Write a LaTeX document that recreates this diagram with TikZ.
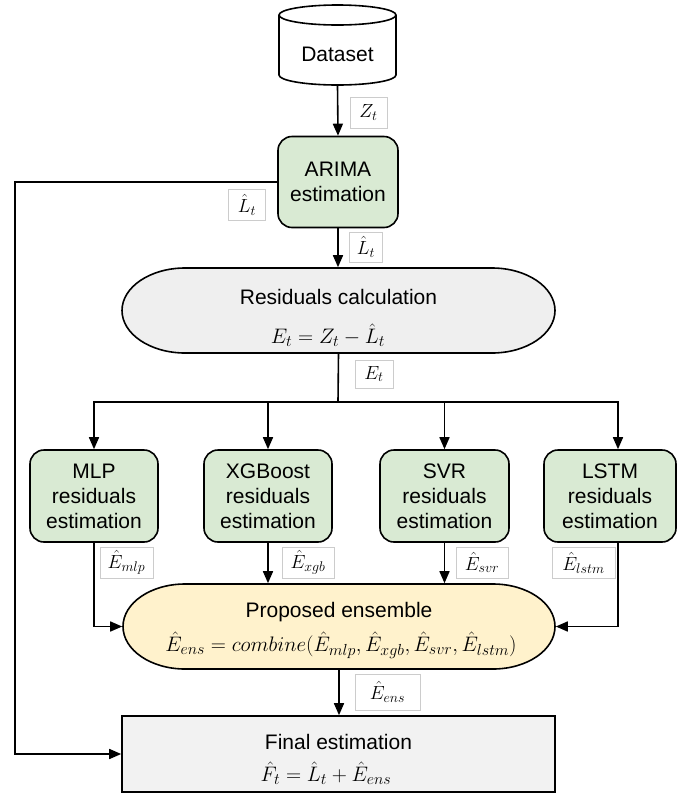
\RequirePackage{fix-cm}
\documentclass[tikz,border=0pt]{standalone}
\usepackage{fontspec}
\setmainfont{Liberation Sans}
\DeclareMathSizes{21}{21}{16}{12}
\DeclareMathSizes{19}{19}{14}{10}
\usetikzlibrary{arrows.meta}
\definecolor{boxgreen}{RGB}{217,234,211}
\definecolor{ensyellow}{RGB}{255,242,204}
\definecolor{resgray}{RGB}{239,239,239}
\definecolor{fingray}{RGB}{242,242,242}
\definecolor{lblgray}{RGB}{204,204,204}
\begin{document}
\begin{tikzpicture}[x=1pt,y=-1pt,
  line width=1.6pt,
  arr/.style={-{Triangle[length=12pt,width=10pt]}, line width=1.6pt},
  gbox/.style={draw, fill=boxgreen, rounded corners=14pt, minimum width=128pt,
    minimum height=92pt, align=center, font=\fontsize{21}{25}\selectfont, inner sep=0pt},
  lbl/.style={draw=lblgray, line width=0.6pt, fill=white, inner sep=0pt,
    minimum height=31pt, font=\fontsize{19}{21}\selectfont},
  txt/.style={font=\fontsize{21}{25}\selectfont, inner sep=0pt},
  frm/.style={font=\fontsize{21}{23}\selectfont, inner sep=0pt},
  hole/.style={minimum width=433pt, minimum height=85pt, inner sep=0pt, draw=none}]
\useasboundingbox (0,0) rectangle (693,793);

% Dataset cylinder
\draw[fill=white] (279,15) -- (279,75) arc[start angle=180, end angle=0, x radius=58.5, y radius=10] -- (396,15);
\draw[fill=white] (337.5,15) ellipse[x radius=58.5, y radius=10];
\node[minimum width=117pt, minimum height=80pt, inner sep=0pt] (ds) at (337.5,45) {};
\node[txt] (dstext) at (337.5,54) {Dataset};

% ARIMA
\node[gbox, minimum width=120pt, minimum height=91pt] (arima) at (338,182) {ARIMA\\estimation};

% Residuals stadium
\draw[fill=resgray] (185,268) -- (492,268) arc[start angle=-90, end angle=90, x radius=63, y radius=42.5]
  -- (185,353) arc[start angle=90, end angle=270, x radius=63, y radius=42.5] -- cycle;
\node[hole] (res) at (338.5,310.5) {};
\node[txt] (restext) at (338.5,297) {Residuals calculation};
\node[frm] (resfrm) at (328,335) {$E_t = Z_t - \hat{L}_t$};

% Residual models
\node[gbox] (mlp) at (94,496) {MLP\\residuals\\estimation};
\node[gbox] (xgb) at (268,496) {XGBoost\\residuals\\estimation};
\node[gbox, minimum width=129pt] (svr) at (444.5,496) {SVR\\residuals\\estimation};
\node[gbox, minimum width=132pt] (lstm) at (610,496) {LSTM\\residuals\\estimation};

% Ensemble stadium
\draw[fill=ensyellow] (185,584) -- (493,584) arc[start angle=-90, end angle=90, x radius=62, y radius=42.5]
  -- (185,669) arc[start angle=90, end angle=270, x radius=62, y radius=42.5] -- cycle;
\node[hole, minimum width=432pt] (ens) at (339,626.5) {};
\node[txt] (enstext) at (339,612) {Proposed ensemble};
\node[frm] (ensfrm) at (341,645) {$\hat{E}_{ens} = combine(\hat{E}_{mlp}, \hat{E}_{xgb}, \hat{E}_{svr}, \hat{E}_{lstm})$};

% Final estimation
\node[draw, fill=fingray, minimum width=433pt, minimum height=76pt, inner sep=0pt] (final) at (338.5,754) {};
\node[txt] (fintext) at (338.5,742) {Final estimation};
\node[frm] (finfrm) at (326,773) {$\hat{F}_t = \hat{L}_t + \hat{E}_{ens}$};

% Connectors
\draw[arr] (ds.south) -- (arima.north);
\draw[arr] (arima.south) -- (arima.south |- res.north);
\draw[arr] (arima.west) -- ++(-262,0) |- (final.west);
\coordinate (br) at (338,402);
\draw (res.south) -- (br);
\draw[arr] (br) -| (mlp.north);
\draw[arr] (br) -| (xgb.north);
\draw[arr] (br) -| (svr.north);
\draw[arr] (br) -| ([xshift=8pt]lstm.north);
\draw[arr] (mlp.south) |- (ens.west);
\draw[arr] (xgb.south) -- (xgb.south |- ens.north);
\draw[arr] (svr.south) -- (svr.south |- ens.north);
\draw[arr] ([xshift=8pt]lstm.south) |- (ens.east);
\draw[arr] (ens.south) -- (ens.south |- final.north);

% Labels
\node[lbl, minimum width=37pt] (lz) at (368.5,112.5) {$Z_t$};
\node[lbl, minimum width=33pt, minimum height=30pt] (llr) at (366,247) {$\hat{L}_t$};
\node[lbl, minimum width=37pt] (lll) at (247,205) {$\hat{L}_t$};
\node[lbl, minimum width=38pt, minimum height=28pt] (le) at (374,374) {$E_t$};
\node[lbl, minimum width=53pt] (lmlp) at (126.5,562.5) {$\hat{E}_{mlp}$};
\node[lbl, minimum width=52pt] (lxgb) at (308,562.5) {$\hat{E}_{xgb}$};
\node[lbl, minimum width=52pt] (lsvr) at (482,562.5) {$\hat{E}_{svr}$};
\node[lbl, minimum width=63pt] (llstm) at (583.5,563) {$\hat{E}_{lstm}$};
\node[lbl, minimum width=65pt, minimum height=36pt] (lens) at (387.5,692) {$\hat{E}_{ens}$};
\end{tikzpicture}
\end{document}
